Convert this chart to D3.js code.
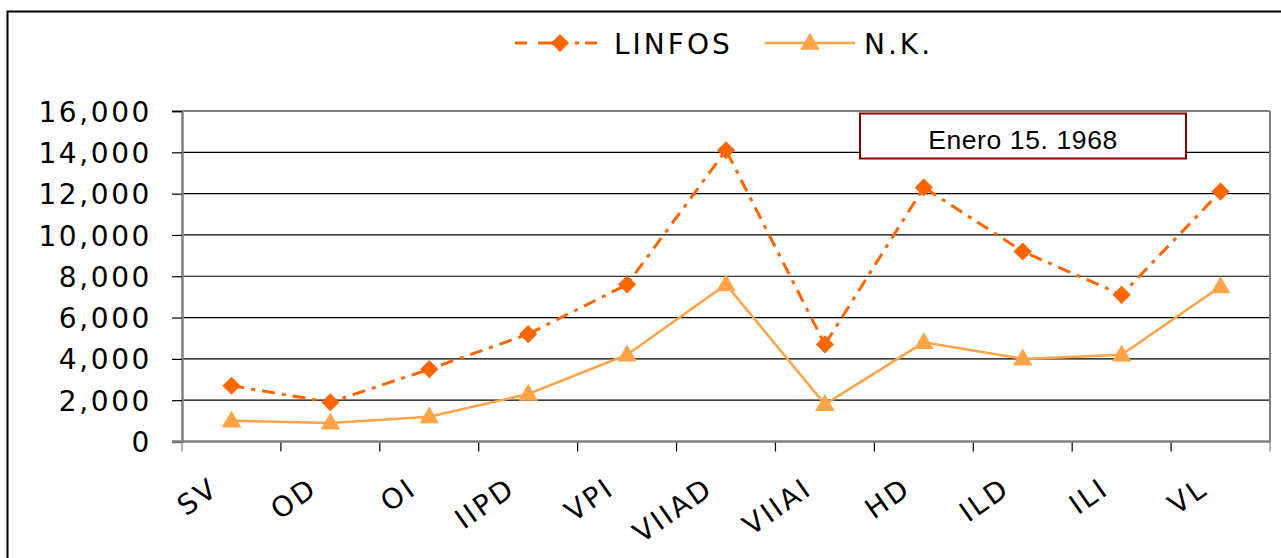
<!DOCTYPE html>
<html>
<head>
<meta charset="utf-8">
<script src="https://cdn.jsdelivr.net/npm/d3@7"></script>
<style>
  html, body { margin: 0; padding: 0; background: #fff; }
  svg { display: block; }
</style>
</head>
<body>
<svg id="chart" width="1281" height="558"></svg>
<script>
// Sampling sites along the x axis
const categories = ["SV", "OD", "OI", "IIPD", "VPI", "VIIAD", "VIIAI", "HD", "ILD", "ILI", "VL"];
// Lymphocyte counts
const linfos = [2700, 1900, 3500, 5200, 7600, 14100, 4700, 12300, 9200, 7100, 12100];
// Natural killer counts
const nk = [1000, 900, 1200, 2300, 4200, 7600, 1800, 4800, 4000, 4200, 7500];
const yTicks = [0, 2000, 4000, 6000, 8000, 10000, 12000, 14000, 16000];
const seriesNames = ["LINFOS", "N.K."];
const noteText = "Enero 15. 1968";

const svg = d3.select("#chart");
const W = 1281, H = 558;
const plot = { left: 182, right: 1270, top: 111, bottom: 441.5 };

const colLinfos = "#FF6600";
const colNK = "#FFA347";
const axisFont = "'DejaVu Sans', Verdana, sans-serif";

// Outer chart frame
svg.append("rect")
  .attr("x", 7.5).attr("y", 11.5)
  .attr("width", W + 20).attr("height", H + 20)
  .attr("fill", "#fff").attr("stroke", "#000").attr("stroke-width", 2);

const x = d3.scaleBand().domain(categories).range([plot.left, plot.right]).padding(0);
const y = d3.scaleLinear().domain([0, 16000]).range([plot.bottom, plot.top]);

// Horizontal gridlines
svg.append("g")
  .selectAll("line")
  .data(yTicks.filter(d => d > 0 && d < 16000))
  .join("line")
  .attr("x1", plot.left).attr("x2", plot.right)
  .attr("y1", d => y(d)).attr("y2", d => y(d))
  .attr("stroke", "#000").attr("stroke-width", 1.2);

// Plot area border (top and right) in gray
svg.append("line")
  .attr("x1", plot.left).attr("x2", plot.right)
  .attr("y1", y(16000)).attr("y2", y(16000))
  .attr("stroke", "#808080").attr("stroke-width", 2);
svg.append("line")
  .attr("x1", plot.right).attr("x2", plot.right)
  .attr("y1", plot.top).attr("y2", plot.bottom)
  .attr("stroke", "#808080").attr("stroke-width", 2);

// Y axis
const yAxis = d3.axisLeft(y)
  .tickValues(yTicks)
  .tickSize(10)
  .tickPadding(20)
  .tickFormat(d3.format(","));
const gy = svg.append("g")
  .attr("transform", `translate(${plot.left},0)`)
  .call(yAxis);
gy.select(".domain").attr("stroke", "#808080").attr("stroke-width", 2.5);
gy.selectAll(".tick line").attr("stroke", "#000").attr("stroke-width", 1.2);
gy.selectAll(".tick text")
  .attr("font-family", axisFont)
  .attr("font-size", 28)
  .attr("letter-spacing", "2.6px")
  .attr("fill", "#000")
  .attr("dy", "0.36em");

// X axis: ticks at category boundaries
const boundaries = categories.map(c => x(c)).concat([plot.right]);
svg.append("g")
  .selectAll("line")
  .data(boundaries)
  .join("line")
  .attr("x1", d => d).attr("x2", d => d)
  .attr("y1", plot.bottom).attr("y2", plot.bottom + 10)
  .attr("stroke", (d, i) => (i === 0 || i === boundaries.length - 1) ? "#808080" : "#000")
  .attr("stroke-width", 1.2);
svg.append("line")
  .attr("x1", plot.left - 10).attr("x2", plot.right)
  .attr("y1", plot.bottom).attr("y2", plot.bottom)
  .attr("stroke", "#808080").attr("stroke-width", 2.5);

// Rotated category labels
svg.append("g")
  .selectAll("text")
  .data(categories)
  .join("text")
  .attr("transform", d => `translate(${x(d) + x.bandwidth() / 2 - 11},${plot.bottom + 51}) rotate(-35)`)
  .attr("text-anchor", "end")
  .attr("font-family", axisFont)
  .attr("font-size", 28)
  .attr("letter-spacing", "2.6px")
  .attr("fill", "#000")
  .text(d => d);

const cx = d => x(d) + x.bandwidth() / 2;
const line = d3.line().x(d => cx(d.c)).y(d => y(d.v));

const linfosData = categories.map((c, i) => ({ c, v: linfos[i] }));
const nkData = categories.map((c, i) => ({ c, v: nk[i] }));

// N.K. series (solid line, triangles)
svg.append("path")
  .datum(nkData)
  .attr("d", line)
  .attr("fill", "none")
  .attr("stroke", colNK)
  .attr("stroke-width", 2.5);

const triangle = d3.symbol().type(d3.symbolTriangle).size(165);
svg.append("g")
  .selectAll("path")
  .data(nkData)
  .join("path")
  .attr("d", triangle)
  .attr("transform", d => `translate(${cx(d.c)},${y(d.v) + 1})`)
  .attr("fill", colNK);

// LINFOS series (dash-dot line, diamonds)
svg.append("path")
  .datum(linfosData)
  .attr("d", line)
  .attr("fill", "none")
  .attr("stroke", colLinfos)
  .attr("stroke-width", 3)
  .attr("stroke-dasharray", "13,7,4,7");

const diamond = d3.symbol().type(d3.symbolSquare).size(165);
svg.append("g")
  .selectAll("path")
  .data(linfosData)
  .join("path")
  .attr("d", diamond)
  .attr("transform", d => `translate(${cx(d.c)},${y(d.v)}) rotate(45)`)
  .attr("fill", colLinfos);

// Annotation box
const note = svg.append("g");
note.append("rect")
  .attr("x", 860).attr("y", 113.5)
  .attr("width", 326).attr("height", 45)
  .attr("fill", "#fff")
  .attr("stroke", "#8B0000").attr("stroke-width", 2);
note.append("text")
  .attr("x", 1023).attr("y", 149)
  .attr("text-anchor", "middle")
  .attr("font-family", "'Liberation Sans', Arial, sans-serif")
  .attr("font-size", 26.5)
  .attr("letter-spacing", "0.6px")
  .attr("fill", "#000")
  .text(noteText);

// Legend
const legend = svg.append("g");
const ly = 43;
legend.append("line")
  .attr("x1", 515).attr("x2", 602).attr("y1", ly).attr("y2", ly)
  .attr("stroke", colLinfos).attr("stroke-width", 3)
  .attr("stroke-dasharray", "12,11,4,0,22,11,4,6");
legend.append("path")
  .attr("d", diamond)
  .attr("transform", `translate(560,${ly}) rotate(45)`)
  .attr("fill", colLinfos);
legend.append("text")
  .attr("x", 614).attr("y", ly + 11)
  .attr("font-family", axisFont).attr("font-size", 28)
  .attr("letter-spacing", "3px")
  .attr("fill", "#000")
  .text(seriesNames[0]);

legend.append("line")
  .attr("x1", 765).attr("x2", 855).attr("y1", ly).attr("y2", ly)
  .attr("stroke", colNK).attr("stroke-width", 2.5);
legend.append("path")
  .attr("d", triangle)
  .attr("transform", `translate(810,${ly + 1})`)
  .attr("fill", colNK);
legend.append("text")
  .attr("x", 864).attr("y", ly + 11)
  .attr("font-family", axisFont).attr("font-size", 28)
  .attr("letter-spacing", "3px")
  .attr("fill", "#000")
  .text(seriesNames[1]);
</script>
</body>
</html>
